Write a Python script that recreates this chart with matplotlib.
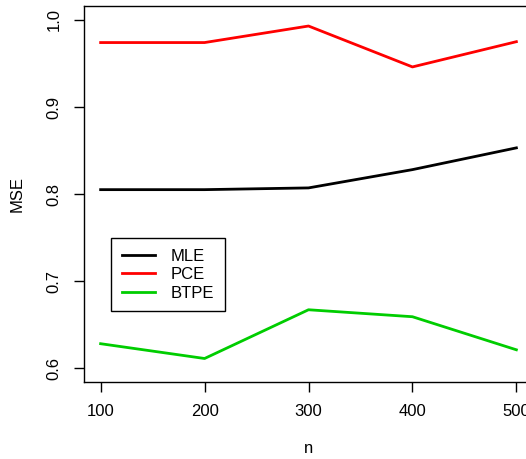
import matplotlib
matplotlib.use("Agg")
import matplotlib.pyplot as plt

plt.rcParams['font.family'] = ['Liberation Sans', 'DejaVu Sans']

n = [100, 200, 300, 400, 500]
mle = [0.805, 0.805, 0.807, 0.828, 0.853]
pce = [0.974, 0.974, 0.993, 0.946, 0.975]
btpe = [0.628, 0.611, 0.667, 0.659, 0.621]

W, H = 526, 459
fig = plt.figure(figsize=(W / 100, H / 100), dpi=100)
# plot region in pixels: left 84, right ~533 (cut off), top 6, bottom 382
left, right, top, bottom = 84, 533, 6, 382
ax = fig.add_axes([left / W, 1 - bottom / H, (right - left) / W, (bottom - top) / H])

ax.plot(n, mle, color='black', lw=2, label='MLE')
ax.plot(n, pce, color='#ff0000', lw=2, label='PCE')
ax.plot(n, btpe, color='#00cd00', lw=2, label='BTPE')

ax.set_xlim(84, 516)
ax.set_ylim(0.584, 1.016)
ax.set_xticks(n)
ax.set_yticks([0.6, 0.7, 0.8, 0.9, 1.0])
ax.set_yticklabels(['0.6', '0.7', '0.8', '0.9', '1.0'], rotation=90, va='center')
ax.tick_params(direction='out', length=7, width=1, labelsize=12, pad=9)
for s in ax.spines.values():
    s.set_linewidth(1)

ax.set_xlabel('n', fontsize=12, labelpad=16)
ax.set_ylabel('MSE', fontsize=12, labelpad=16)

leg = ax.legend(loc='upper left', bbox_to_anchor=((111 - left) / (right - left), 1 - (238 - top) / (bottom - top)),
                fancybox=False, edgecolor='black', framealpha=1, fontsize=12,
                handlelength=2.0, borderpad=0.65, labelspacing=0.2, handletextpad=0.9,
                borderaxespad=0)
leg.get_frame().set_linewidth(1)

fig.savefig('out.png', dpi=100)
